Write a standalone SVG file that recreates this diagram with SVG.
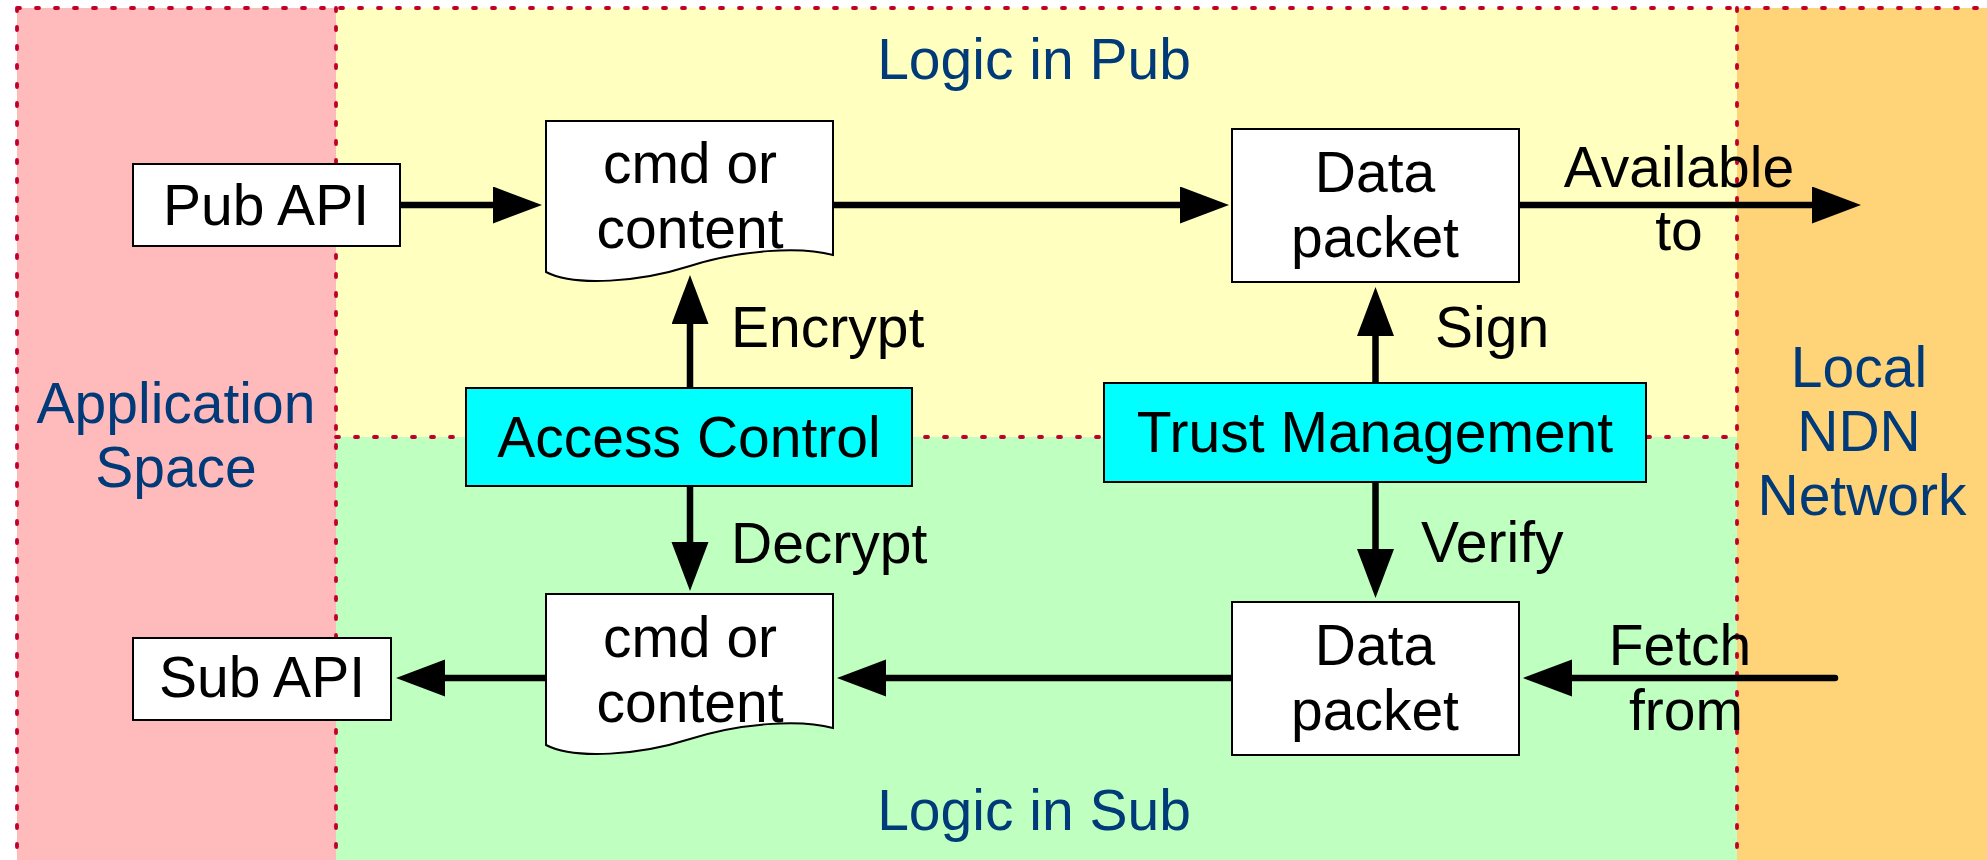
<svg xmlns="http://www.w3.org/2000/svg" width="1987" height="860" viewBox="0 0 1987 860">
<style>
.t{font-family:"Liberation Sans",Arial,Helvetica,sans-serif;font-size:57px;fill:#000}
.b{font-family:"Liberation Sans",Arial,Helvetica,sans-serif;font-size:57px;fill:#003A78}
.m{text-anchor:middle}
.box{fill:#fff;stroke:#000;stroke-width:2}
.cy{fill:#00FFFF;stroke:#000;stroke-width:2}
.dot{stroke:#C0002A;stroke-width:3.8;stroke-linecap:round;stroke-dasharray:3 16;fill:none}
.c{stroke:#000;stroke-width:6.5;stroke-linecap:round;fill:none;marker-end:url(#ah)}
</style>
<defs>
<marker id="ah" markerUnits="userSpaceOnUse" markerWidth="52" markerHeight="40" refX="2" refY="18.5" orient="auto" viewBox="0 0 52 40">
<path d="M0,0 L49,18.5 L0,37 z" fill="#000"/>
</marker>
</defs>
<rect width="1987" height="860" fill="#fff"/>
<g id="regions">
<rect x="17" y="8" width="319" height="852" fill="#FFBBBB"/>
<rect x="336" y="8" width="1401" height="429" fill="#FFFFC0"/>
<rect x="336" y="437" width="1401" height="423" fill="#BFFFBF"/>
<rect x="1737" y="8" width="250" height="852" fill="#FFD479"/>
<path class="dot" d="M17,8 H1987 M17,8 V860 M336,8 V860 M1737,8 V860 M336,437 H1737"/>
</g>
<g id="region-labels">
<text class="b m" x="1034" y="79">Logic in Pub</text>
<text class="b m" x="1034" y="830">Logic in Sub</text>
<text class="b m" x="176" y="423">Application</text>
<text class="b m" x="176" y="487">Space</text>
<text class="b m" x="1859" y="387">Local</text>
<text class="b m" x="1859" y="451">NDN</text>
<text class="b m" x="1862" y="515">Network</text>
</g>
<g id="connectors">
<path class="c" d="M400,205 H495"/>
<path class="c" d="M834,205 H1182"/>
<path class="c" d="M1519,205 H1814"/>
<path class="c" d="M690,388 V322"/>
<path class="c" d="M1375.5,384 V334"/>
<path class="c" d="M690,486 V544"/>
<path class="c" d="M1375.5,482 V551"/>
<path class="c" d="M1835,678 H1570"/>
<path class="c" d="M1232,678 H884"/>
<path class="c" d="M546,678 H443"/>
<text class="t" x="731" y="347">Encrypt</text>
<text class="t" x="731" y="563">Decrypt</text>
<text class="t" x="1435" y="347">Sign</text>
<text class="t" x="1421" y="562">Verify</text>
<text class="t m" x="1679" y="187">Available</text>
<text class="t m" x="1679" y="250">to</text>
<text class="t m" x="1680" y="665">Fetch</text>
<text class="t m" x="1686" y="730">from</text>
</g>
<g id="pub-api">
<rect class="box" x="133" y="164" width="267" height="82"/>
<text class="t m" x="266" y="225">Pub API</text>
</g>
<g id="sub-api">
<rect class="box" x="133" y="638" width="258" height="82"/>
<text class="t m" x="262" y="697">Sub API</text>
</g>
<g id="cmd-pub">
<path class="box" d="M546,121 H833 V255 C800,246 740,250 690,266 C640,282 575,287 546,272 Z"/>
<text class="t m" x="690" y="183">cmd or</text>
<text class="t m" x="690" y="248">content</text>
</g>
<g id="cmd-sub">
<path class="box" d="M546,594 H833 V728 C800,719 740,723 690,739 C640,755 575,760 546,745 Z"/>
<text class="t m" x="690" y="657">cmd or</text>
<text class="t m" x="690" y="722">content</text>
</g>
<g id="data-pub">
<rect class="box" x="1232" y="129" width="287" height="153"/>
<text class="t m" x="1375" y="192">Data</text>
<text class="t m" x="1375" y="257">packet</text>
</g>
<g id="data-sub">
<rect class="box" x="1232" y="602" width="287" height="153"/>
<text class="t m" x="1375" y="665">Data</text>
<text class="t m" x="1375" y="730">packet</text>
</g>
<g id="access-control">
<rect class="cy" x="466" y="388" width="446" height="98"/>
<text class="t m" x="689" y="457">Access Control</text>
</g>
<g id="trust-management">
<rect class="cy" x="1104" y="383" width="542" height="99"/>
<text class="t m" x="1375" y="452">Trust Management</text>
</g>
</svg>
